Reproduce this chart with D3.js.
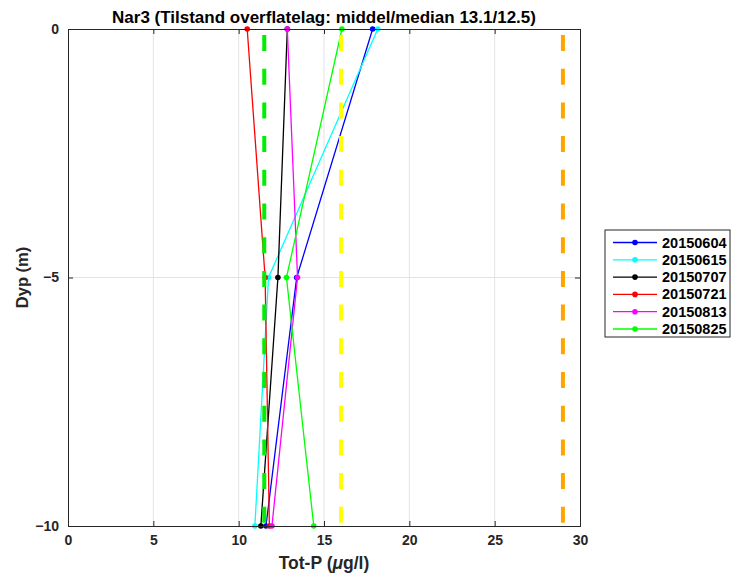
<!DOCTYPE html>
<html><head><meta charset="utf-8">
<script src="https://cdn.jsdelivr.net/npm/d3@7"></script>
<style>body{margin:0;background:#fff;} text{font-family:"Liberation Sans",Arial,sans-serif;}</style>
</head><body>
<svg id="c" width="734" height="574"></svg>
<script>
const depths = [0, -5, -10];
const seriesNames = ["20150604","20150615","20150707","20150721","20150813","20150825"];
const seriesColors = ["#0000ff","#00ffff","#000000","#ff0000","#ff00ff","#00ff00"];
const v20150604 = [17.85, 13.4, 11.6];
const v20150615 = [18.15, 11.75, 10.95];
const v20150707 = [12.85, 12.3, 11.3];
const v20150721 = [10.5, 11.55, 11.8];
const v20150813 = [12.85, 13.45, 11.95];
const v20150825 = [16.05, 12.8, 14.4];
const seriesValues = [v20150604, v20150615, v20150707, v20150721, v20150813, v20150825];
const thresholds = [11.5, 16, 29];
const thresholdColors = ["#00ee00", "#ffff00", "#ffa500"];
const xTicks = [0,5,10,15,20,25,30];
const yTicks = [0,-5,-10];
const title = "Nar3 (Tilstand overflatelag: middel/median 13.1/12.5)";

const svg = d3.select("#c");
const L=68, R=580, T=29, B=526;
const x = d3.scaleLinear().domain([0,30]).range([L,R]);
const y = d3.scaleLinear().domain([-10,0]).range([B,T]);

// grid
const g = svg.append("g");
g.selectAll(".gx").data(xTicks.slice(1,-1)).enter().append("line")
 .attr("x1",d=>x(d)).attr("x2",d=>x(d)).attr("y1",T).attr("y2",B)
 .attr("stroke","#e3e3e3").attr("stroke-width",1);
g.selectAll(".gy").data([-5]).enter().append("line")
 .attr("y1",d=>y(d)).attr("y2",d=>y(d)).attr("x1",L).attr("x2",R)
 .attr("stroke","#e3e3e3").attr("stroke-width",1);

// data lines
const line = d3.line().x(d=>x(d[0])).y(d=>y(d[1]));
seriesValues.forEach((vals,i)=>{
  const pts = vals.map((v,j)=>[v,depths[j]]);
  svg.append("path").attr("d",line(pts)).attr("fill","none")
    .attr("stroke",seriesColors[i]).attr("stroke-width",1.3);
  svg.selectAll(null).data(pts).enter().append("circle")
    .attr("cx",d=>x(d[0])).attr("cy",d=>y(d[1])).attr("r",2.8)
    .attr("fill",seriesColors[i]);
});

// thresholds
thresholds.forEach((t,i)=>{
  svg.append("line").attr("x1",x(t)).attr("x2",x(t)).attr("y1",T).attr("y2",B)
    .attr("stroke",thresholdColors[i]).attr("stroke-width",4)
    .attr("stroke-dasharray","16,17.7").attr("stroke-dashoffset",27.7);
});

// axes
const ax = svg.append("g").attr("transform",`translate(0,${B})`)
  .call(d3.axisBottom(x).tickValues(xTicks).tickSize(-5).tickPadding(9).tickFormat(d3.format("d")));
const ay = svg.append("g").attr("transform",`translate(${L},0)`)
  .call(d3.axisLeft(y).tickValues(yTicks).tickSize(-5).tickPadding(9).tickFormat(d3.format("d")));
const axt = svg.append("g").attr("transform",`translate(0,${T})`)
  .call(d3.axisTop(x).tickValues(xTicks).tickSize(-5).tickFormat(""));
const ayr = svg.append("g").attr("transform",`translate(${R},0)`)
  .call(d3.axisRight(y).tickValues(yTicks).tickSize(-5).tickFormat(""));
[ax,ay,axt,ayr].forEach(a=>{
  a.selectAll("path,line").attr("stroke","#262626").attr("stroke-width",1);
  a.selectAll("text").attr("fill","#262626").style("font-size","14px").style("font-weight","bold")
   .style("font-family","'Liberation Sans',Arial,sans-serif");
});

// title & labels
svg.append("text").attr("x",(L+R)/2).attr("y",23).attr("text-anchor","middle")
  .style("font-size","17px").style("font-weight","bold").attr("fill","#000").text(title);
svg.append("text").attr("x",(L+R)/2).attr("y",569).attr("text-anchor","middle")
  .style("font-size","17.5px").style("font-weight","bold").attr("fill","#262626")
  .html('Tot-P (<tspan font-style="italic">μ</tspan>g/l)');
svg.append("text").attr("transform",`translate(28,${(T+B)/2}) rotate(-90)`).attr("text-anchor","middle")
  .style("font-size","16.5px").style("font-weight","bold").attr("fill","#262626").text("Dyp (m)");

// legend
const lg = svg.append("g");
const lx=605, ly=230, lw=125, lh=107;
lg.append("rect").attr("x",lx).attr("y",ly).attr("width",lw).attr("height",lh)
  .attr("fill","#fff").attr("stroke","#262626").attr("stroke-width",1);
seriesNames.forEach((n,i)=>{
  const yy = ly+12.5+i*17.3;
  lg.append("line").attr("x1",lx+8).attr("x2",lx+52).attr("y1",yy).attr("y2",yy)
    .attr("stroke",seriesColors[i]).attr("stroke-width",1.3);
  lg.append("circle").attr("cx",lx+30).attr("cy",yy).attr("r",2.8).attr("fill",seriesColors[i]);
  lg.append("text").attr("x",lx+57).attr("y",yy+5).style("font-size","14.5px").style("font-weight","bold")
    .attr("fill","#000").text(n);
});
</script>
</body></html>
